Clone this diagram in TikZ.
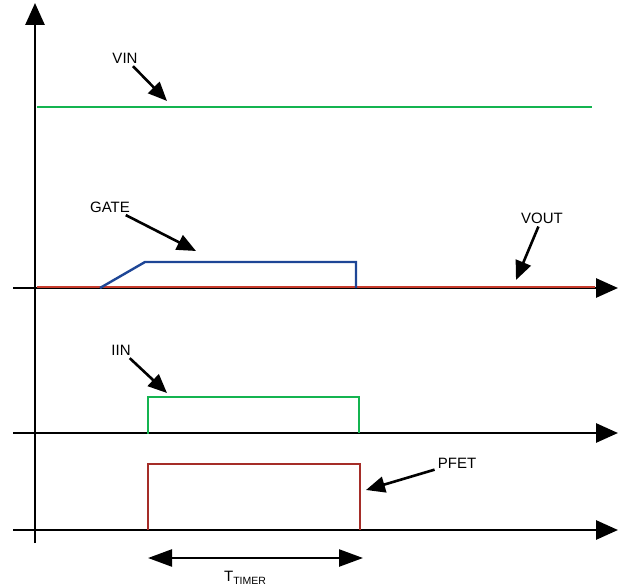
\documentclass[tikz,border=0pt]{standalone}
\usepackage{fontspec}
\setmainfont{Liberation Sans}
\usetikzlibrary{arrows.meta}
\definecolor{vingreen}{RGB}{20,180,80}
\definecolor{gateblue}{RGB}{30,70,150}
\definecolor{voutred}{RGB}{200,60,45}
\definecolor{pfetred}{RGB}{165,45,40}

\begin{document}
\begin{tikzpicture}[x=1pt,y=-1pt,>={Triangle[length=19pt,width=16pt]},semithick,
    axis/.style={line width=2.8pt,-{Triangle[length=22pt,width=19pt]}},
    callout/.style={line width=2.6pt,->,shorten <=1pt},
    sig/.style={line width=2.4pt},
    lbl/.style={inner sep=2pt,font=\fontsize{15}{17}\selectfont}]
                \useasboundingbox (0,0) rectangle (618,588);
                % axes
                \coordinate(yb)at(35, 543);
                \coordinate(yt)at(35, 3);
                \coordinate(a1l)at(13, 288);
                \coordinate(a1r)at(618, 288);
                \coordinate(a2l)at(13, 433);
                \coordinate(a2r)at(618, 433);
                \coordinate(a3l)at(13, 530);
                \coordinate(a3r)at(618, 530);
                \draw[axis](yb) -- (yt);
                \draw[axis](a1l) -- (a1r);
                \draw[axis](a2l) -- (a2r);
                \draw[axis](a3l) -- (a3r);
                % signals
                \draw[sig,vingreen](37, 107) -- (592, 107);
                \draw[sig,voutred](37, 287) -- (595, 287);
                \draw[sig,gateblue](100, 288) -- (145, 262) -- (356, 262) -- (356, 288);
                \draw[sig,vingreen](148, 434) -- (148, 397) -- (359, 397) -- (359, 433);
                \draw[sig,pfetred](148, 530) -- (148, 464) -- (360, 464) -- (360, 530);
                % labels
                \node[lbl](VIN)at(125, 58){VIN};
                \node[lbl](GATE)at(110, 207){GATE};
                \node[lbl](VOUT)at(542, 218){VOUT};
                \node[lbl](IIN)at(121, 350){IIN};
                \node[lbl](PFET)at(457, 463){PFET};
                \node[lbl](TT)at(245, 578){T\raisebox{-0.35ex}{\fontsize{10.5}{12}\selectfont TIMER}};
                \coordinate(vinp)at(167, 101);
                \coordinate(gatep)at(196, 251);
                \coordinate(voutp)at(516, 280);
                \coordinate(iinp)at(167, 393);
                \coordinate(pfetp)at(366, 490);
                \coordinate(ts)at(148, 558);
                \coordinate(te)at(363, 558);
                \path[callout](VIN) edge (vinp)
                (GATE) edge (gatep)
                (VOUT) edge (voutp)
                (IIN) edge (iinp)
                (PFET) edge (pfetp);
                \draw[line width=2.4pt,{Triangle[length=24pt,width=17pt]}-{Triangle[length=24pt,width=17pt]}](ts) -- (te);
            \end{tikzpicture}
\end{document}
